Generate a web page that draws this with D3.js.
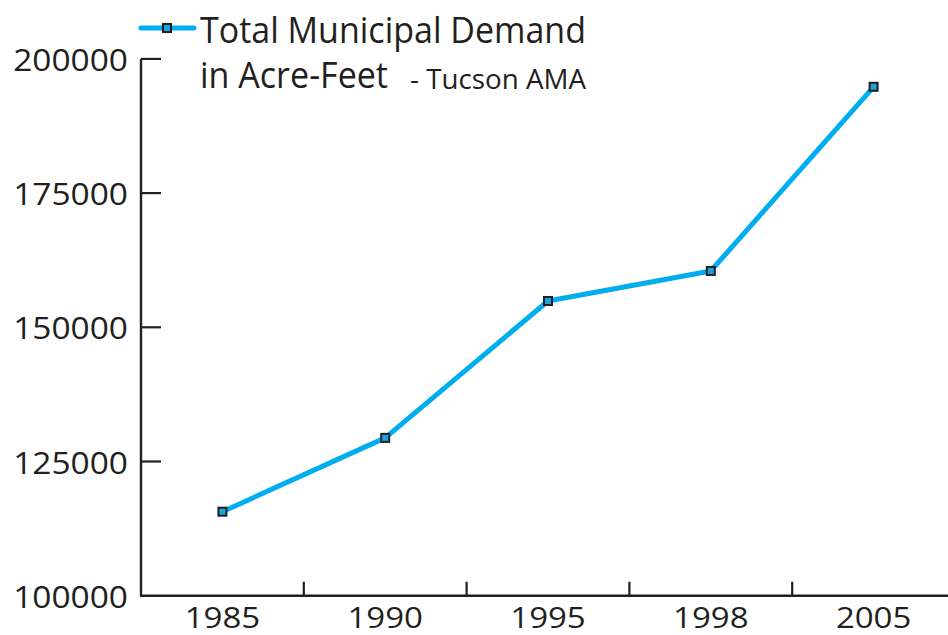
<!DOCTYPE html>
<html>
<head>
<meta charset="utf-8">
<script src="https://cdn.jsdelivr.net/npm/d3@7"></script>
<style>
  html, body { margin: 0; padding: 0; background: #fff; }
  svg { display: block; }
  text { font-family: "Open Sans", "Noto Sans", sans-serif; fill: #231f20; }
</style>
</head>
<body>
<svg id="chart" width="948" height="635"></svg>
<script>
const years = ["1985", "1990", "1995", "1998", "2005"];
const demand = [115650, 129400, 154900, 160500, 194800];
const yTicks = [100000, 125000, 150000, 175000, 200000];
const seriesName = ["Total Municipal Demand", "in Acre-Feet"];
const subTitle = "- Tucson AMA";

const W = 948, H = 635;
const svg = d3.select("#chart");
const axisColor = "#231f20";
const lineColor = "#00aeef";

const x = d3.scaleBand().domain(years).range([141, 955]);
const y = d3.scaleLinear().domain([100000, 200000]).range([595.7, 58.9]);

// Axes lines
svg.append("line").attr("x1", 141).attr("x2", 141).attr("y1", y(200000)).attr("y2", y(100000))
  .attr("stroke", axisColor).attr("stroke-width", 2.4);
svg.append("line").attr("x1", 140).attr("x2", W).attr("y1", y(100000)).attr("y2", y(100000))
  .attr("stroke", axisColor).attr("stroke-width", 2.4);

// Y ticks (inward) and labels
svg.selectAll(".ytick").data(yTicks.filter(d => d > 100000)).enter().append("line")
  .attr("x1", 141).attr("x2", 161).attr("y1", d => y(d)).attr("y2", d => y(d))
  .attr("stroke", axisColor).attr("stroke-width", 2.2);
svg.selectAll(".ylab").data(yTicks).enter().append("text")
  .attr("transform", d => `translate(128,${y(d) + 12}) scale(1.08,1)`)
  .attr("text-anchor", "end").attr("font-size", 31)
  .text(d => d);

// X ticks at band boundaries (upward)
const bounds = years.slice(1).map(d => x(d));
svg.selectAll(".xtick").data(bounds).enter().append("line")
  .attr("x1", d => d).attr("x2", d => d).attr("y1", y(100000)).attr("y2", y(100000) - 14)
  .attr("stroke", axisColor).attr("stroke-width", 2.2);
svg.selectAll(".xlab").data(years).enter().append("text")
  .attr("transform", d => `translate(${x(d) + x.bandwidth() / 2},628) scale(1.1,1)`)
  .attr("text-anchor", "middle").attr("font-size", 30)
  .text(d => d);

// Line
const pts = years.map((d, i) => [x(d) + x.bandwidth() / 2, y(demand[i])]);
svg.append("path").attr("d", d3.line()(pts)).attr("fill", "none")
  .attr("stroke", lineColor).attr("stroke-width", 5).attr("stroke-linejoin", "round");
svg.selectAll(".pt").data(pts).enter().append("rect")
  .attr("x", d => d[0] - 4).attr("y", d => d[1] - 4).attr("width", 8).attr("height", 8)
  .attr("fill", "#1aa3dc").attr("stroke", axisColor).attr("stroke-width", 2);

// Legend
svg.append("line").attr("x1", 141).attr("x2", 194).attr("y1", 28).attr("y2", 28)
  .attr("stroke", lineColor).attr("stroke-width", 5).attr("stroke-linecap", "round");
svg.append("rect").attr("x", 163).attr("y", 24).attr("width", 8).attr("height", 8)
  .attr("fill", "#1aa3dc").attr("stroke", axisColor).attr("stroke-width", 2);
svg.append("text").attr("x", 200).attr("y", 43).attr("font-size", 37)
  .attr("textLength", 386).attr("lengthAdjust", "spacingAndGlyphs").text(seriesName[0]);
svg.append("text").attr("x", 200).attr("y", 88).attr("font-size", 37)
  .attr("textLength", 188).attr("lengthAdjust", "spacingAndGlyphs").text(seriesName[1]);
svg.append("text").attr("x", 410).attr("y", 89).attr("font-size", 28)
  .attr("textLength", 176).attr("lengthAdjust", "spacingAndGlyphs").text(subTitle);
</script>
</body>
</html>
